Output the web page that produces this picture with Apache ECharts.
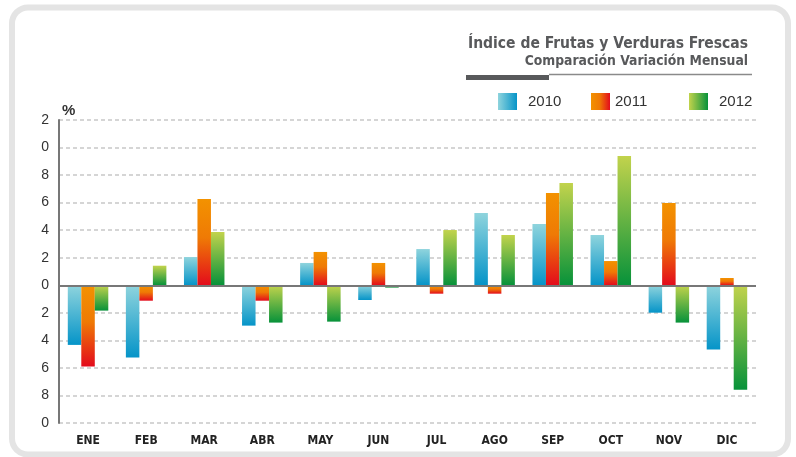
<!DOCTYPE html>
<html>
<head>
<meta charset="utf-8">
<script src="https://cdn.jsdelivr.net/npm/echarts@6/dist/echarts.min.js"></script>
<style>
html,body{margin:0;padding:0;background:#fff;}
#chart{width:796px;height:457px;}
</style>
</head>
<body>
<div id="chart"></div>
<script>
const categories = ['ENE','FEB','MAR','ABR','MAY','JUN','JUL','AGO','SEP','OCT','NOV','DIC'];
const seriesNames = ['2010','2011','2012'];
const values2010 = [-4.33, -5.25, 2.05, -2.93, 1.62, -1.07, 2.63, 5.25, 4.45, 3.65, -1.99, -4.67];
const values2011 = [-5.9, -1.12, 6.26, -1.12, 2.42, 1.62, -0.61, -0.61, 6.7, 1.76, 5.97, 0.53];
const values2012 = [-1.84, 1.42, 3.87, -2.71, -2.64, -0.17, 4.01, 3.65, 7.42, 9.38, -2.71, -7.58];
const yTickValues = [-10, -8, -6, -4, -2, 0, 2, 4, 6, 8, 10, 12];
const yTickLabels = ['0', '8', '6', '4', '2', '0', '2', '4', '6', '8', '0', '2'];
const titleText = 'Índice de Frutas y Verduras Frescas';
const subtitleText = 'Comparación Variación Mensual';
const unitText = '%';

const NARROW = "'Liberation Sans Narrow','DejaVu Sans Condensed','Roboto',sans-serif";
const REG = "'Liberation Sans','Roboto',sans-serif";

const palettes = [
  [{offset:0,color:'#8fd4dd'},{offset:1,color:'#0594c8'}],
  [{offset:0,color:'#f39200'},{offset:0.45,color:'#ef7a05'},{offset:1,color:'#e30b1c'}],
  [{offset:0,color:'#c2d34c'},{offset:1,color:'#07923a'}]
];
function vGrad(i){ return new echarts.graphic.LinearGradient(0,0,0,1,palettes[i]); }
function hGrad(i){ return new echarts.graphic.LinearGradient(0,0,1,0,palettes[i]); }

const chart = echarts.init(document.getElementById('chart'), null, {renderer:'canvas'});
const seriesData = [values2010, values2011, values2012];
const legendLeft = [498, 591, 689];
const legendPad = [6, 0, 6];

const option = {
  animation: false,
  backgroundColor: '#fff',
  textStyle: {fontFamily: REG},
  title: [
    {text: titleText, right: 48, top: 36, padding: 0,
     textStyle: {fontFamily: NARROW, fontWeight: 'bold', fontSize: 15.5, color: '#58595b'}},
    {text: subtitleText, right: 48, top: 54, padding: 0,
     textStyle: {fontFamily: NARROW, fontWeight: 'bold', fontSize: 13.8, color: '#58595b'}}
  ],
  legend: seriesNames.map((n, i) => ({
    data: [{name: n, itemStyle: {color: hGrad(i)}}],
    left: legendLeft[i], top: 93, padding: 0,
    itemWidth: 19, itemHeight: 17, icon: 'rect',
    selectedMode: false,
    textStyle: {fontFamily: REG, fontSize: 15, color: '#333', padding: [0,0,0,legendPad[i]]}
  })),
  grid: {left: 59, right: 40, top: 120, bottom: 34, containLabel: false},
  xAxis: {
    type: 'category', data: categories,
    axisLine: {show: false, onZero: false},
    axisTick: {show: false},
    splitLine: {show: false},
    axisLabel: {fontFamily: NARROW, fontWeight: 'bold', fontSize: 12, color: '#222', margin: 12}
  },
  yAxis: {
    type: 'value', min: -10, max: 12, interval: 2,
    name: unitText, nameLocation: 'end', nameGap: 2,
    nameTextStyle: {fontFamily: REG, fontWeight: 'bold', fontSize: 15, color: '#333', align: 'left', padding: [0,0,0,3]},
    axisLine: {show: true, lineStyle: {color: '#777', width: 2}},
    axisTick: {show: false},
    axisLabel: {fontFamily: REG, fontSize: 14, color: '#333', margin: 10,
      formatter: v => { const k = yTickValues.indexOf(v); return k >= 0 ? yTickLabels[k] : ''; }},
    splitLine: {show: true, lineStyle: {color: '#c8c8c8', width: 1.5, type: [4, 3]}}
  },
  series: seriesNames.map((n, i) => {
    const s = {
      name: n, type: 'bar', data: seriesData[i],
      barWidth: 13.5, barGap: '0%',
      itemStyle: {color: vGrad(i)},
      emphasis: {disabled: true}
    };
    if (i === 2) {
      s.markLine = {
        symbol: 'none', silent: true, label: {show: false},
        lineStyle: {color: '#777', width: 2, type: 'solid'},
        data: [{yAxis: 0}]
      };
    }
    return s;
  }),
  graphic: [
    {type: 'rect', z: -10, silent: true,
     shape: {x: 12, y: 7.5, width: 776, height: 447, r: 16},
     style: {fill: 'none', stroke: '#e4e4e4', lineWidth: 6}},
    {type: 'rect', silent: true,
     shape: {x: 466, y: 75, width: 83, height: 5},
     style: {fill: '#58595b'}},
    {type: 'line', silent: true,
     shape: {x1: 549, y1: 74.5, x2: 752, y2: 74.5},
     style: {stroke: '#8a8a8a', lineWidth: 1.5}}
  ]
};
chart.setOption(option);
</script>
</body>
</html>
